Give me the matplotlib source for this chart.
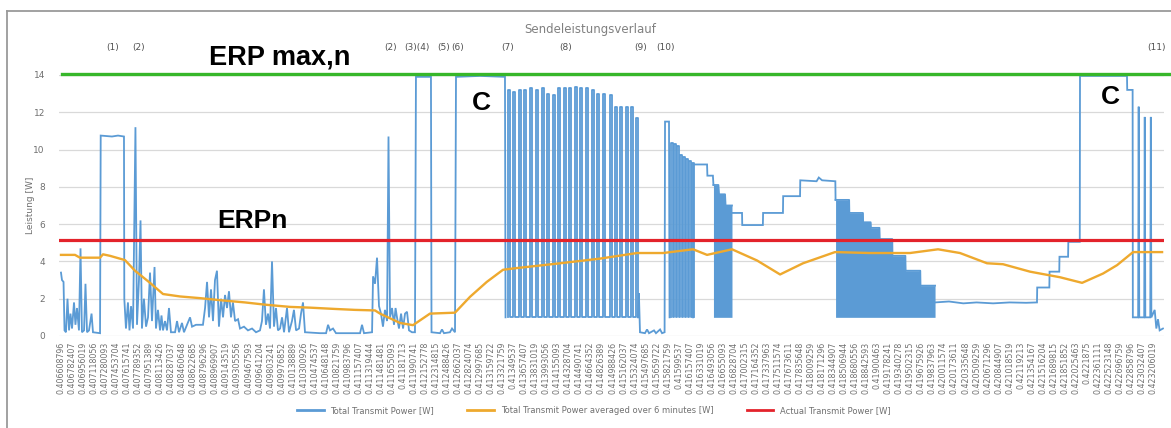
import matplotlib.pyplot as plt
from matplotlib.lines import Line2D

# x-Achse: Kategorien (Uhrzeit als Tagesbruchteil)
labels = [
    '0.406608796', '0.406782407', '0.406956019', '0.407118056', '0.407280093',
    '0.407453704', '0.407615741', '0.407789352', '0.407951389', '0.408113426',
    '0.408287037', '0.408460648', '0.408622685', '0.408796296', '0.408969907',
    '0.409143519', '0.409305556', '0.409467593', '0.409641204', '0.409803241',
    '0.409976852', '0.410138889', '0.410300926', '0.410474537', '0.410648148',
    '0.410821759', '0.410983796', '0.411157407', '0.411319444', '0.411481481',
    '0.411655093', '0.41181713', '0.411990741', '0.412152778', '0.412314815',
    '0.412488426', '0.412662037', '0.412824074', '0.412997685', '0.413159722',
    '0.413321759', '0.41349537', '0.413657407', '0.413831019', '0.413993056',
    '0.414155093', '0.414328704', '0.414490741', '0.414664352', '0.414826389',
    '0.414988426', '0.415162037', '0.415324074', '0.415497685', '0.415659722',
    '0.415821759', '0.41599537', '0.416157407', '0.416331019', '0.416493056',
    '0.416655093', '0.416828704', '0.417002315', '0.417164352', '0.417337963',
    '0.417511574', '0.417673611', '0.417835648', '0.418009259', '0.418171296',
    '0.418344907', '0.418506944', '0.418680556', '0.418842593', '0.41900463',
    '0.419178241', '0.419340278', '0.419502315', '0.419675926', '0.419837963',
    '0.420011574', '0.420173611', '0.420335648', '0.420509259', '0.420671296',
    '0.420844907', '0.421018519', '0.42119213', '0.421354167', '0.421516204',
    '0.421689815', '0.421851852', '0.422025463', '0.4221875', '0.422361111',
    '0.422523148', '0.422696759', '0.422858796', '0.423032407', '0.423206019',
]

# Total Transmit Power [W] (Position auf der Kategorieachse, Leistung)
blue_a = [
    (0.00, 3.4), (0.09, 3.0), (0.23, 2.9), (0.32, 0.3), (0.45, 0.2), (0.59, 2.0),
    (0.73, 0.3), (0.86, 1.2), (1.00, 0.4), (1.18, 1.8), (1.31, 0.6), (1.45, 1.5),
    (1.63, 0.3), (1.77, 4.7), (1.90, 0.2), (2.09, 0.3), (2.22, 2.8), (2.36, 0.2),
    (2.54, 0.3), (2.77, 1.2), (2.90, 0.2), (3.54, 0.15), (3.60, 10.75), (4.62, 10.7),
    (5.17, 10.75), (5.71, 10.7), (5.74, 2.0), (5.89, 0.4), (6.07, 1.8), (6.21, 0.3),
    (6.35, 1.6), (6.53, 0.4), (6.75, 11.2), (6.89, 0.6), (7.07, 3.0), (7.21, 6.2),
    (7.34, 0.4), (7.52, 2.0), (7.71, 0.5), (7.89, 1.0), (8.07, 3.4), (8.25, 0.8),
    (8.48, 3.7), (8.61, 0.4), (8.79, 1.4), (8.98, 0.3), (9.11, 1.1), (9.25, 0.3),
    (9.43, 0.8), (9.61, 0.3), (9.79, 1.5), (9.97, 0.2), (10.34, 0.2), (10.52, 0.8),
    (10.70, 0.2), (10.97, 0.7), (11.15, 0.2), (11.70, 1.0), (11.88, 0.5), (12.24, 0.6),
    (12.60, 0.6), (12.87, 0.6), (13.06, 1.5), (13.24, 2.9), (13.42, 1.0), (13.60, 2.5),
    (13.78, 0.8), (13.96, 3.0), (14.14, 3.5), (14.32, 0.5), (14.51, 2.0), (14.69, 1.0),
    (14.87, 2.2), (15.05, 1.5), (15.23, 2.4), (15.41, 1.0), (15.59, 1.8), (15.78, 0.8),
    (16.05, 0.9), (16.23, 0.4), (16.59, 0.5), (16.95, 0.3), (17.32, 0.4), (17.68, 0.2),
    (18.04, 0.3), (18.22, 0.8), (18.40, 2.5), (18.58, 0.6), (18.77, 1.2), (18.95, 0.4),
    (19.13, 4.0), (19.31, 0.5), (19.49, 1.5), (19.67, 0.3), (19.86, 0.4), (20.04, 1.0),
    (20.22, 0.2), (20.49, 1.5), (20.67, 0.2), (20.94, 0.8), (21.12, 1.4), (21.31, 0.3),
    (21.58, 0.4), (21.76, 1.2), (21.94, 1.8), (22.12, 0.2), (23.48, 0.15), (24.03, 0.15),
    (24.21, 0.6), (24.39, 0.3), (24.66, 0.4), (24.93, 0.15), (27.11, 0.15), (27.29, 0.6),
    (27.47, 0.15), (28.20, 0.2), (28.29, 3.2), (28.47, 2.8), (28.65, 4.2), (28.83, 1.6),
    (29.01, 1.2), (29.19, 0.5), (29.37, 1.4), (29.56, 0.8), (29.69, 10.7), (29.83, 1.0),
    (30.01, 1.5), (30.19, 0.6), (30.33, 1.5), (30.46, 1.0), (30.64, 0.4), (30.83, 1.2),
    (31.01, 0.4), (31.19, 1.2), (31.37, 1.3), (31.55, 0.3), (31.82, 0.2), (32.09, 0.2),
    (32.18, 13.9), (33.54, 13.9), (33.59, 0.2), (34.36, 0.15), (34.54, 0.35), (34.72, 0.15),
    (35.26, 0.2), (35.45, 0.4), (35.72, 0.2), (35.81, 13.9), (37.99, 13.95), (40.25, 13.9),
    (40.30, 1.0),
]

# Pulsbetrieb (7)-(9): Position und Spitzenwert der Pulse
pulse_t = [40.53, 40.98, 41.52, 41.98, 42.52, 43.07, 43.61, 44.06, 44.61, 45.06, 45.60, 46.06,
           46.60, 47.05, 47.60, 48.14, 48.59, 49.14, 49.77, 50.23, 50.68, 51.22, 51.68, 52.13]
pulse_w = [13.2, 13.1, 13.2, 13.2, 13.3, 13.2, 13.3, 13.0, 12.9, 13.3, 13.3, 13.3,
           13.35, 13.3, 13.3, 13.2, 13.0, 13.0, 12.9, 12.3, 12.3, 12.3, 12.3, 11.7]
pulse_low = 1.0

blue_b = [
    (52.30, 1.0), (52.39, 2.3), (52.49, 0.2), (52.94, 0.15), (53.13, 0.35), (53.31, 0.15),
    (53.76, 0.3), (53.94, 0.15), (54.31, 0.35), (54.49, 0.15), (54.72, 0.2), (54.76, 11.5),
    (55.12, 11.5), (55.17, 1.0),
]

pulse2_t = [55.30, 55.57, 55.84, 56.11, 56.38, 56.65, 56.93, 57.20]
pulse2_w = [10.35, 10.3, 10.2, 9.7, 9.6, 9.5, 9.4, 9.3]

blue_c = [
    (57.30, 1.0), (57.32, 9.2), (58.57, 9.2), (58.60, 8.6), (59.1, 8.6), (59.15, 8.1),
]

# dicht belegte Bereiche: obere Huelle (Untergrenze = pulse_low)
band1_t = [59.15, 59.6, 59.65, 60.2, 60.25, 60.83]
band1_w = [8.1, 8.1, 7.6, 7.6, 7.0, 7.0]

blue_d = [
    (60.83, 6.6), (61.74, 6.6), (61.76, 5.95), (63.63, 5.95), (63.65, 6.6), (65.45, 6.6),
    (65.47, 7.5), (67.00, 7.5), (67.02, 8.35), (68.5, 8.3), (68.7, 8.5), (69.0, 8.35),
    (70.20, 8.3), (70.22, 7.3),
]

band2_t = [70.22, 71.45, 71.47, 72.70, 72.72, 73.40, 73.42, 74.2, 74.22, 75.36, 75.38,
           76.55, 76.57, 77.90, 77.92, 79.24]
band2_w = [7.3, 7.3, 6.6, 6.6, 6.1, 6.1, 5.8, 5.8, 5.2, 5.2, 4.3, 4.3, 3.5, 3.5, 2.7, 2.7]

blue_e = [
    (79.24, 1.8), (80.5, 1.85), (81.8, 1.75), (83.0, 1.8), (84.5, 1.75), (86.0, 1.8),
    (87.5, 1.78), (88.48, 1.8), (88.50, 2.6), (89.6, 2.6), (89.62, 3.45), (90.5, 3.45),
    (90.52, 4.25), (91.3, 4.25), (91.32, 5.05), (92.36, 5.05), (92.38, 13.95), (96.64, 13.95),
    (96.66, 13.2), (97.15, 13.2), (97.17, 1.0), (97.65, 1.0), (97.7, 12.3), (97.75, 1.0),
    (98.2, 1.0), (98.25, 11.75), (98.3, 1.0), (98.75, 1.0), (98.8, 11.75), (98.85, 1.0),
    (99.15, 1.4), (99.3, 0.4), (99.45, 0.9), (99.6, 0.3), (99.9, 0.4),
]

# Total Transmit Power averaged over 6 minutes [W]
avg_pts = [
    (0.00, 4.35), (1.27, 4.35), (1.72, 4.2), (3.54, 4.2), (3.81, 4.38), (4.44, 4.3),
    (5.80, 4.07), (6.71, 3.5), (8.07, 2.85), (9.25, 2.25), (10.79, 2.12), (12.60, 2.03),
    (14.42, 1.92), (16.68, 1.8), (18.50, 1.68), (20.76, 1.56), (22.57, 1.52), (24.84, 1.45),
    (26.65, 1.4), (28.47, 1.37), (28.92, 1.2), (30.73, 0.7), (31.91, 0.58), (33.45, 1.2),
    (35.72, 1.25), (37.08, 2.1), (38.6, 2.9), (40.07, 3.55), (40.98, 3.62), (45.24, 3.9),
    (48.87, 4.15), (52.22, 4.45), (54.58, 4.45), (57.30, 4.65), (58.57, 4.35), (60.83, 4.65),
    (63.10, 4.05), (65.19, 3.3), (67.27, 3.9), (70.17, 4.5), (73.34, 4.45), (76.97, 4.45),
    (79.51, 4.65), (81.50, 4.45), (83.95, 3.9), (85.40, 3.85), (87.85, 3.45), (90.57, 3.15),
    (92.57, 2.85), (94.47, 3.35), (95.74, 3.8), (97.19, 4.5), (99.82, 4.5),
]

erp_n = 5.15       # Actual Transmit Power [W]
erp_max = 14.05    # ERP max,n

marker_text = ['(1)', '(2)', '(2)', '(3)(4)', '(5)', '(6)', '(7)', '(8)', '(9)', '(10)', '(11)']
marker_pos = [4.69, 7.07, 29.92, 32.28, 34.72, 35.99, 40.53, 45.78, 52.58, 54.76, 99.36]

BLUE = '#5B9BD5'
ORANGE = '#EEA92E'
RED = '#E3232B'
GREEN = '#37B72A'
GRID = '#D9D9D9'
TXT = '#707070'


def pulse_path(ts, ws, low, width=0.2):
    xs, ys = [], []
    for t, w in zip(ts, ws):
        xs += [t, t, t + width, t + width]
        ys += [low, w, w, low]
    return xs, ys


fig = plt.figure(figsize=(11.71, 4.28), dpi=100)
ax = fig.add_axes([0.0502, 0.2150, 0.9434, 0.6098])

ax.set_xlim(-0.2, 99.95)
ax.set_ylim(0, 14)
ax.set_yticks(range(0, 15, 2))
ax.grid(axis='y', color=GRID, lw=0.9)
ax.set_axisbelow(True)
for s in ax.spines.values():
    s.set_visible(False)
ax.tick_params(axis='both', length=0, colors=TXT)
ax.tick_params(axis='y', labelsize=6.5, pad=10)
ax.set_xticks(range(len(labels)))
ax.set_xticklabels(labels, rotation=90, fontsize=5.7, color=TXT)
ax.tick_params(axis='x', pad=4)
ax.set_ylabel('Leistung [W]', fontsize=6.5, color=TXT, labelpad=-1)

lw_b = 1.3
for seg in (blue_a, blue_b, blue_c, blue_d, blue_e):
    t, w = zip(*seg)
    ax.plot(t, w, color=BLUE, lw=lw_b, solid_joinstyle='miter')
for ts, ws in ((pulse_t, pulse_w), (pulse2_t, pulse2_w)):
    px, py = pulse_path(ts, ws, pulse_low)
    ax.plot(px, py, color=BLUE, lw=lw_b)
for bt, bw in ((band1_t, band1_w), (band2_t, band2_w)):
    ax.fill_between(bt, pulse_low, bw, color=BLUE, lw=0)
    ax.plot(bt, bw, color=BLUE, lw=lw_b)

t, w = zip(*avg_pts)
ax.plot(t, w, color=ORANGE, lw=1.7)
ax.axhline(erp_n, color=RED, lw=2.3)
ax.axhline(erp_max, xmin=0.003, xmax=1.01, color=GREEN, lw=2.4, clip_on=False)

for txt, pos in zip(marker_text, marker_pos):
    ax.text(pos, 15.45, txt, ha='center', va='center', fontsize=6.5, color='#505050')

bold = dict(fontfamily='Liberation Sans', fontweight='bold', color='black', ha='center', va='center')
ax.text(19.85, 14.95, 'ERP max,n', fontsize=19.5, **bold)
ax.text(17.4, 6.15, 'ERPn', fontsize=19, **bold)
ax.text(38.1, 12.5, 'C', fontsize=19, **bold)
ax.text(95.1, 12.8, 'C', fontsize=19, **bold)

fig.text(590 / 1171, 1 - 30 / 428, 'Sendeleistungsverlauf', ha='center', va='center',
         fontsize=8.5, color='#808080')

handles = [Line2D([], [], color=BLUE, lw=2), Line2D([], [], color=ORANGE, lw=2),
           Line2D([], [], color=RED, lw=2)]
fig.legend(handles, ['Total Transmit Power [W]', 'Total Transmit Power averaged over 6 minutes [W]',
                     'Actual Transmit Power [W]'],
           loc='center', bbox_to_anchor=(0.507, 0.04), ncol=3, frameon=False, fontsize=6,
           handlelength=3.2, columnspacing=4, labelcolor=TXT)

# Rahmen des Diagrammbereichs
fig.add_artist(Line2D([7 / 1171, 1.0], [1 - 11 / 428] * 2, color='#9A9A9A', lw=1.3,
                      transform=fig.transFigure))
fig.add_artist(Line2D([7 / 1171] * 2, [0, 1 - 11 / 428], color='#9A9A9A', lw=1.3,
                      transform=fig.transFigure))

fig.savefig('out.png', dpi=100)
